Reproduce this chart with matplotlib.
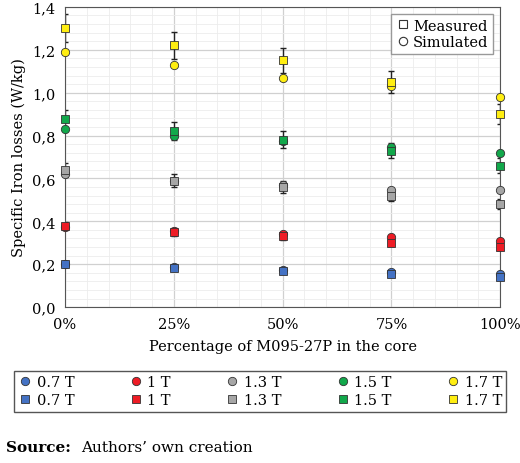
import matplotlib.pyplot as plt
from matplotlib.ticker import MultipleLocator, FuncFormatter

plt.rcParams["font.family"] = ["DejaVu Serif"]

x = [0, 25, 50, 75, 100]
labels = ["0.7 T", "1 T", "1.3 T", "1.5 T", "1.7 T"]
colors = ["#4472C4", "#EE1C25", "#A6A6A6", "#12A84B", "#FFEE11"]

measured = [
    [0.20, 0.18, 0.17, 0.155, 0.14],
    [0.38, 0.35, 0.33, 0.30, 0.28],
    [0.64, 0.59, 0.56, 0.52, 0.48],
    [0.875, 0.82, 0.78, 0.73, 0.66],
    [1.30, 1.22, 1.15, 1.05, 0.90],
]
simulated = [
    [0.20, 0.185, 0.175, 0.165, 0.155],
    [0.375, 0.355, 0.34, 0.325, 0.31],
    [0.62, 0.59, 0.57, 0.545, 0.545],
    [0.83, 0.80, 0.775, 0.745, 0.72],
    [1.19, 1.13, 1.07, 1.03, 0.98],
]
err_frac = 0.05

fig = plt.figure(figsize=(5.2, 4.64), dpi=100)
ax = fig.add_axes([0.125, 0.336, 0.837, 0.647])

for i in range(5):
    ax.errorbar(x, measured[i], yerr=[v * err_frac for v in measured[i]],
                fmt="none", ecolor="#222222", elinewidth=1, capsize=2.5, zorder=2)

handles = []
for i in range(5):
    hs, = ax.plot(x, simulated[i], "o", color=colors[i], mec="#333333",
                  mew=0.6, ms=6, zorder=3, clip_on=False)
    hm, = ax.plot(x, measured[i], "s", color=colors[i], mec="#333333",
                  mew=0.6, ms=6, zorder=4, clip_on=False)
    handles += [hs, hm]

ax.set_xlim(0, 100)
ax.set_ylim(0, 1.4)
ax.xaxis.set_major_locator(MultipleLocator(25))
ax.xaxis.set_minor_locator(MultipleLocator(5))
ax.yaxis.set_major_locator(MultipleLocator(0.2))
ax.yaxis.set_minor_locator(MultipleLocator(0.04))
ax.xaxis.set_major_formatter(FuncFormatter(lambda v, p: f"{int(v)}%"))
ax.yaxis.set_major_formatter(FuncFormatter(lambda v, p: f"{v:.1f}".replace(".", ",")))
ax.grid(which="major", color="#d0d0d0", lw=0.9)
ax.grid(which="minor", color="#ececec", lw=0.6)
ax.tick_params(which="both", length=0, labelsize=10.5, pad=7)
ax.set_axisbelow(True)
for s in ax.spines.values():
    s.set_color("#555555")
ax.set_xlabel("Percentage of M095-27P in the core", fontsize=10.5, labelpad=6)
ax.set_ylabel("Specific Iron losses (W/kg)", fontsize=10.5)

lm, = ax.plot([], [], "s", mfc="white", mec="#333333", mew=0.8, ms=6)
ls, = ax.plot([], [], "o", mfc="white", mec="#333333", mew=0.8, ms=6)
ax.legend([lm, ls], ["Measured", "Simulated"], loc="upper right",
          fontsize=10.5, fancybox=False, edgecolor="#999999", framealpha=1,
          handletextpad=0.2, borderpad=0.3, labelspacing=0.2, handlelength=1)

leg_labels = [l for l in labels for _ in range(2)]
fig.legend(handles, leg_labels, ncol=5,
           loc="center", bbox_to_anchor=(0.012, 0.103, 0.976, 0.104),
           mode="expand", fontsize=10.5, fancybox=False, edgecolor="#555555",
           framealpha=1, handletextpad=0.3, columnspacing=0.5,
           handlelength=1, labelspacing=0.3, borderpad=0.3)

fig.text(0.012, 0.025, "Source:", fontsize=11, fontweight="bold")
fig.text(0.155, 0.025, "Authors’ own creation", fontsize=11)

fig.savefig("out.png", dpi=100)
